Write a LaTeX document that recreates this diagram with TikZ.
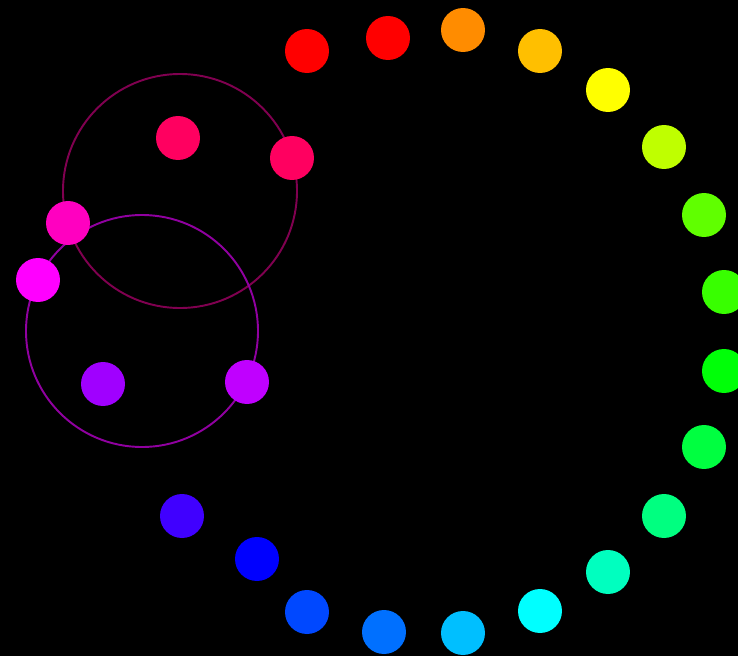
\documentclass[tikz,border=0pt]{standalone}
\usepackage{xcolor}
\usepackage{tikz}
\usetikzlibrary{positioning,calc}
\definecolor{HueA}{HTML}{FF0000}
\definecolor{HueB}{HTML}{FF8C00}
\definecolor{HueC}{HTML}{FFBF00}
\definecolor{HueD}{HTML}{FFFF00}
\definecolor{HueE}{HTML}{BFFF00}
\definecolor{HueF}{HTML}{60FF00}
\definecolor{HueG}{HTML}{38FF00}
\definecolor{HueH}{HTML}{00FF08}
\definecolor{HueI}{HTML}{00FF40}
\definecolor{HueJ}{HTML}{00FF80}
\definecolor{HueK}{HTML}{00FFBF}
\definecolor{HueL}{HTML}{00FFFF}
\definecolor{HueM}{HTML}{00BFFF}
\definecolor{HueN}{HTML}{0070FF}
\definecolor{HueO}{HTML}{0048FF}
\definecolor{HueP}{HTML}{0000FF}
\definecolor{HueQ}{HTML}{4000FF}
\definecolor{HueR}{HTML}{A000FF}
\definecolor{HueS}{HTML}{C000FF}
\definecolor{HueT}{HTML}{FF00FF}
\definecolor{HueU}{HTML}{FF00C0}
\definecolor{HueV}{HTML}{FF0060}
\definecolor{RingUp}{HTML}{800050}
\definecolor{RingLow}{HTML}{9000A0}

\begin{document}
\begin{tikzpicture}[x=0.02cm,y=-0.02cm,
    dot/.style={circle,draw=none,minimum size=0.88cm,inner sep=0pt},
    ring/.style={line width=1.1pt}]
    \useasboundingbox (0,0) rectangle (738,656);
    \clip (0,0) rectangle (738,656);
    \fill[black] (0,0) rectangle (738,656);
    % the two rings
    \coordinate (cu) at (180,191);
    \coordinate (cl) at (142,331);
    \draw[ring,RingUp] (cu) circle[radius=117];
    \draw[ring,RingLow] (cl) circle[radius=116];
    % dots, clockwise from the top
    \foreach \n/\x/\y/\c in {1/388/38/HueA,2/463/30/HueB,3/540/51/HueC,4/608/90/HueD,
        5/664/147/HueE,6/704/215/HueF,7/724/292/HueG,8/724/371/HueH,
        9/704/447/HueI,10/664/516/HueJ,11/608/572/HueK,12/540/611/HueL,
        13/463/633/HueM,14/384/632/HueN,15/307/612/HueO,16/257/559/HueP,
        17/182/516/HueQ,18/103/384/HueR,19/247/382/HueS,20/38/280/HueT,
        21/68/223/HueU,22/178/138/HueV,23/292/158/HueV,24/307/51/HueA}
      \node[dot,fill=\c] (d\n) at (\x,\y) {};
  \end{tikzpicture}
\end{document}
